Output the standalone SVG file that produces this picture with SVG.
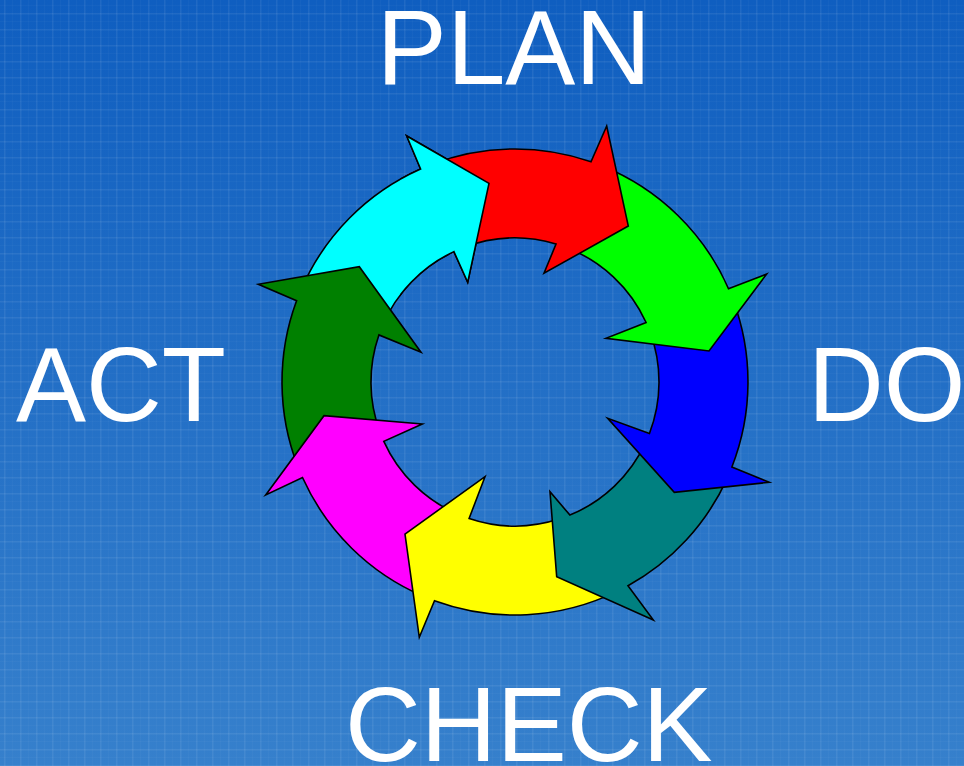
<svg xmlns="http://www.w3.org/2000/svg" xmlns:xlink="http://www.w3.org/1999/xlink" width="964" height="766" viewBox="0 0 964 766">
  <style>
    .seg { stroke: #000; stroke-width: 1.6; stroke-linejoin: miter; stroke-miterlimit: 12; }
    .lbl { fill: #fff; font-family: "Liberation Sans", Arial, sans-serif; font-size: 105px; }
  </style>
  <defs>
    <linearGradient id="bg" x1="0" y1="0" x2="0" y2="1">
      <stop offset="0" stop-color="#0f5ec0"/>
      <stop offset="1" stop-color="#3680cc"/>
    </linearGradient>
    <pattern id="grid" patternUnits="userSpaceOnUse" x="4" y="13" width="16" height="16">
      <rect x="0" y="0" width="16" height="1.5" fill="#fff" fill-opacity="0.07"/>
      <rect x="0" y="0" width="1.5" height="16" fill="#fff" fill-opacity="0.07"/>
      <rect x="8" y="0" width="1" height="16" fill="#fff" fill-opacity="0.025"/>
      <rect x="0" y="8" width="16" height="1" fill="#fff" fill-opacity="0.025"/>
    </pattern>
    <clipPath id="cyanTop">
      <rect x="400" y="0" width="200" height="400"/>
    </clipPath>
  </defs>

  <rect id="background" width="964" height="766" fill="url(#bg)"/>
  <rect width="964" height="766" fill="url(#grid)"/>

  <g id="cycle">
    <g id="seg-cyan"><path id="p-cyan" class="seg" fill="#00ffff" d="M301.2,289.5 A233,233 0 0 1 420.6,169.0 L406.7,136 L489,183.3 L467.7,282.3 L453.9,251.6 A144,144 0 0 0 382.5,325.5 Z"/></g>
    <g id="seg-darkgreen"><path class="seg" fill="#008000" d="M297.8,466.3 A233,233 0 0 1 296.6,300.8 L258.3,284.3 L359.3,266.7 L421,352.3 L378.9,334.9 A144,144 0 0 0 379.9,432.0 Z"/></g>
    <g id="seg-magenta"><path class="seg" fill="#ff00ff" d="M423.2,596.2 A233,233 0 0 1 302.5,477.5 L265.7,495 L324,415.7 L422.3,424 L383.8,441.3 A144,144 0 0 0 459.7,514.9 Z"/></g>
    <g id="seg-yellow"><path class="seg" fill="#ffff00" d="M617.1,591.4 A233,233 0 0 1 434.5,600.7 L419.3,637.3 L405,534 L485,476.7 L469.1,518.5 A144,144 0 0 0 560.5,518.6 Z"/></g>
    <g id="seg-teal"><path class="seg" fill="#008080" d="M727.2,478.3 A233,233 0 0 1 628.0,585.8 L653.3,620 L556.7,576.7 L550,491.7 L569.9,515.1 A144,144 0 0 0 645.5,442.9 Z"/></g>
    <g id="seg-blue"><path class="seg" fill="#0000ff" d="M733.1,300.0 A233,233 0 0 1 731.9,467.0 L769.3,482.3 L674.3,492.3 L607.7,418.3 L649.4,433.6 A144,144 0 0 0 650.0,331.8 Z"/></g>
    <g id="seg-green"><path class="seg" fill="#00ff00" d="M602.3,166.0 A233,233 0 0 1 728.5,288.7 L766.7,274 L709,351 L606,338.3 L646.1,322.5 A144,144 0 0 0 565.5,247.2 Z"/></g>
    <g id="seg-red"><path class="seg" fill="#ff0000" d="M431.9,164.3 A233,233 0 0 1 591.0,161.7 L606.7,126 L628.3,226 L544,273.3 L556.0,244.0 A144,144 0 0 0 463.2,247.6 Z"/></g>
    <use xlink:href="#p-cyan" href="#p-cyan" clip-path="url(#cyanTop)"/>
  </g>

  <g id="labels">
    <text class="lbl" x="514" y="84" text-anchor="middle">PLAN</text>
    <text class="lbl" x="808" y="421">DO</text>
    <text class="lbl" x="345" y="761">CHECK</text>
    <text class="lbl" x="16" y="421">ACT</text>
  </g>
</svg>
